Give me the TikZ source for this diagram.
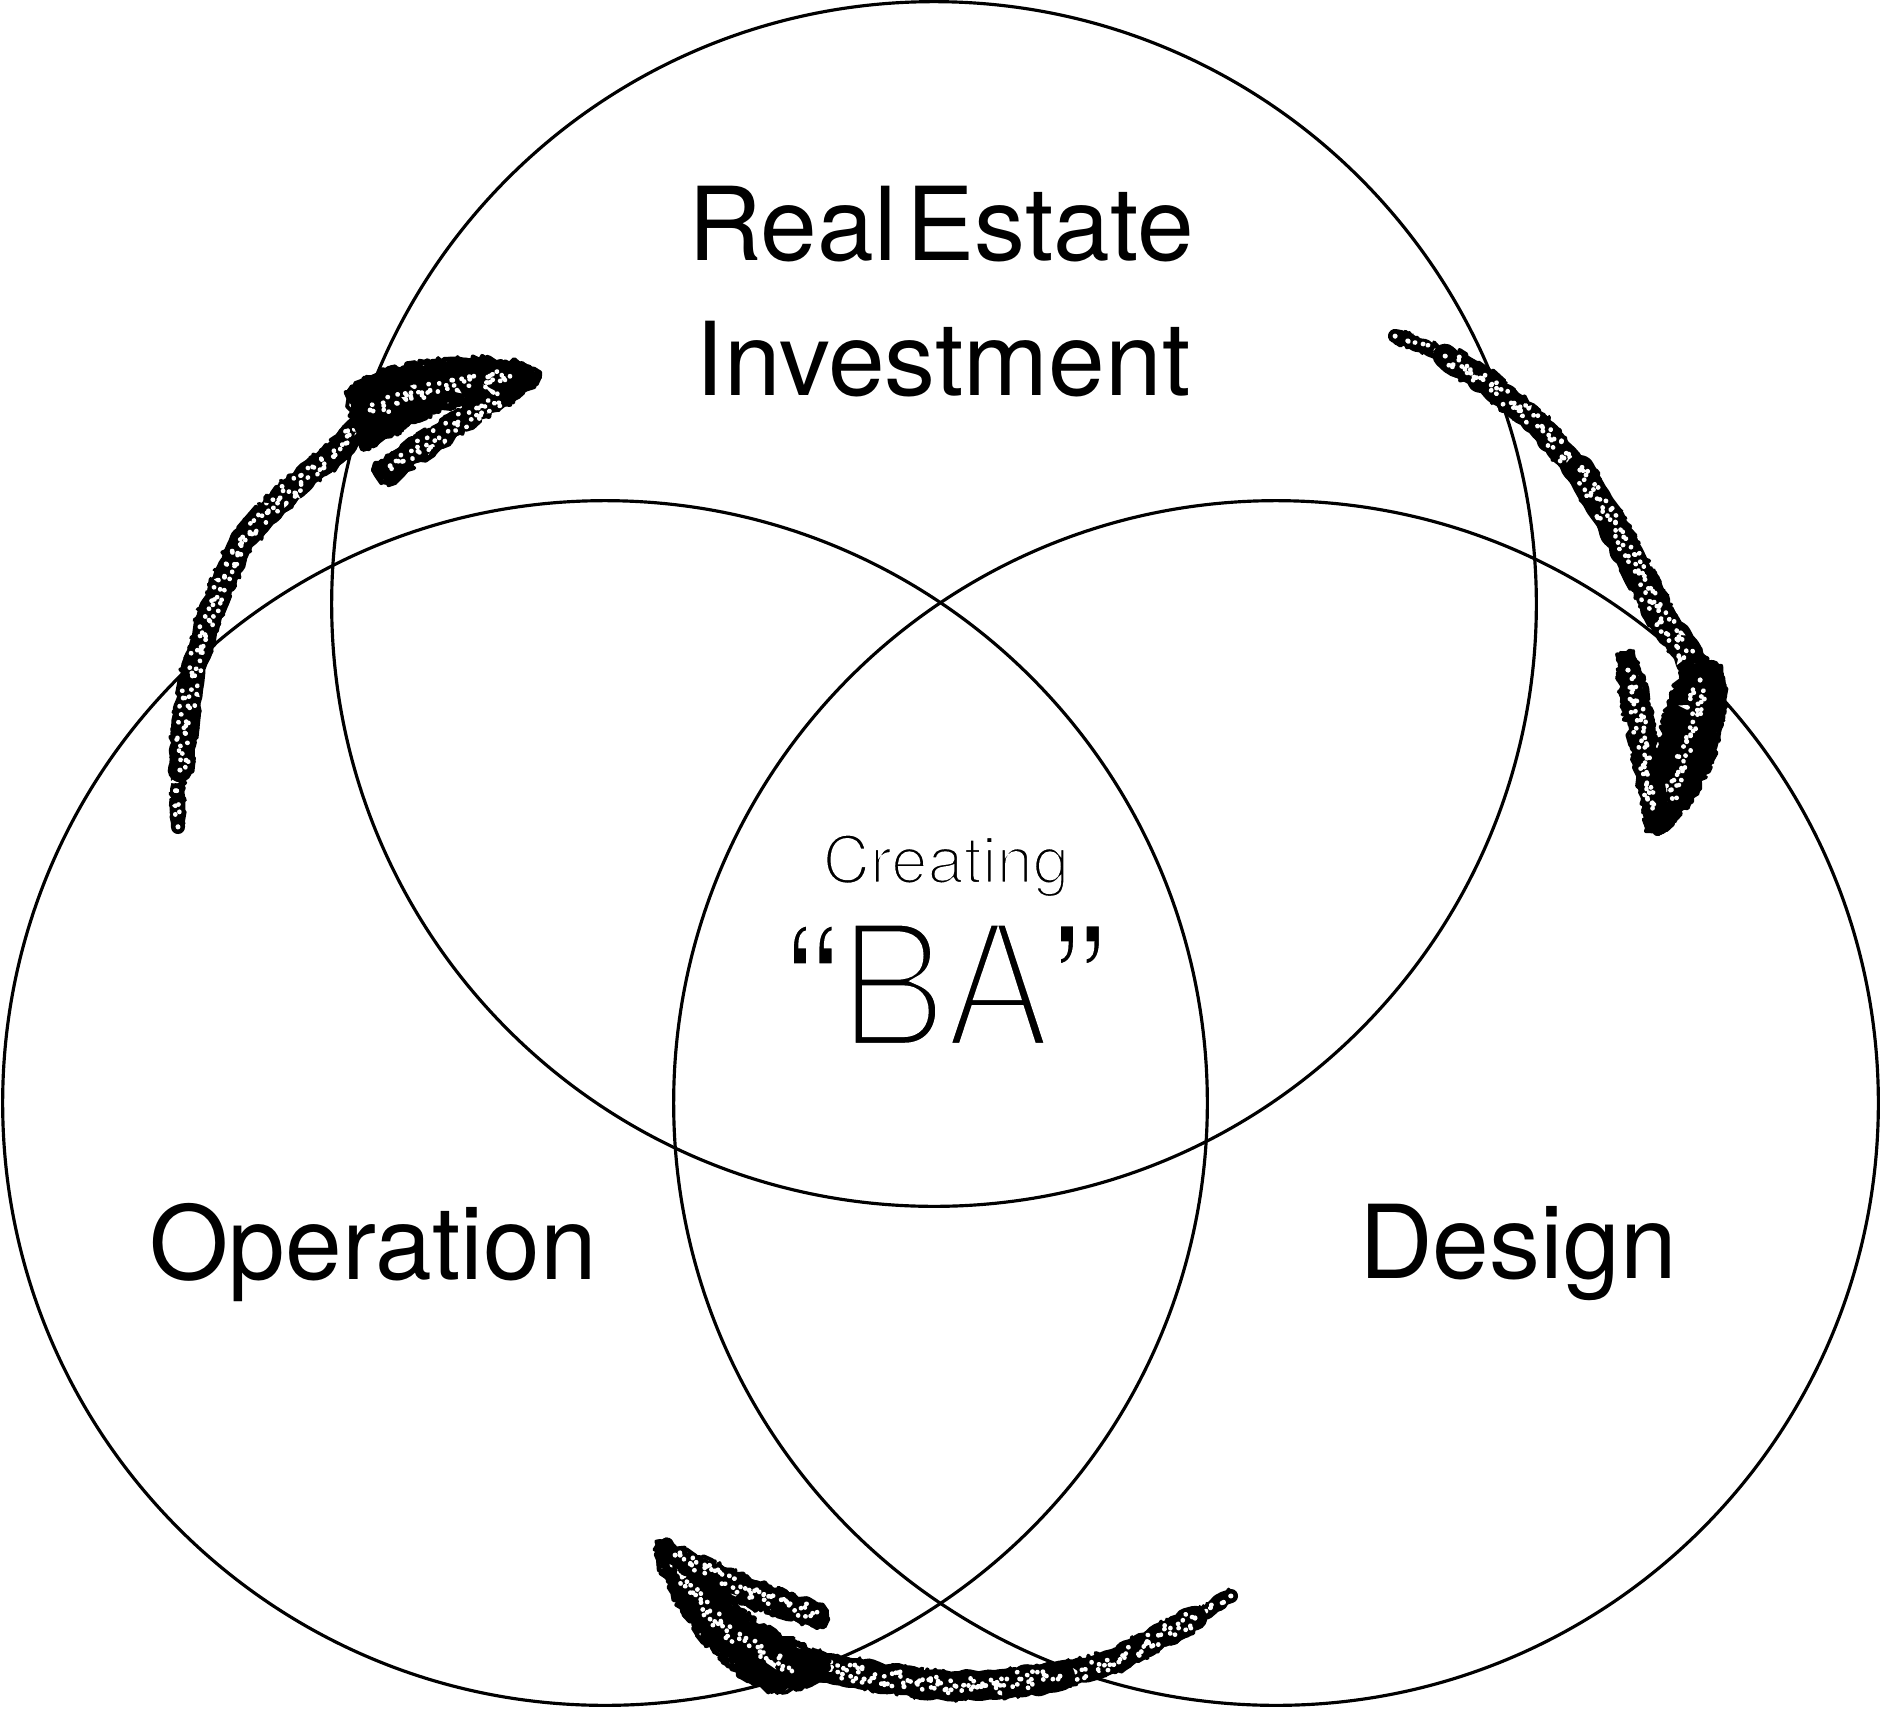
\documentclass[tikz,border=0pt]{standalone}
\usepackage{fontspec}
\setmainfont{TeX Gyre Heros}
\newfontfamily\bafont{TeX Gyre Heros}[FakeStretch=0.94]
\usetikzlibrary{decorations.pathmorphing}
\newcommand\thinink[1]{\special{pdf:literal direct 1 G 2 Tr #1 w}}
\tikzset{
  venn/.style={circle, draw, line width=0.9pt, minimum size=12.04cm, inner sep=0pt, outer sep=0pt},
  lbl/.style={anchor=base, inner sep=0pt, font=\fontsize{29}{35}\selectfont},
  core/.style={draw=black, line width=#1, line cap=round, line join=round, decorate,
    decoration={random steps, segment length=2pt, amplitude=0.6pt}},
  fuzz/.style={draw=black, line width=1.1pt, line cap=round, line join=round, decorate,
    decoration={random steps, segment length=1.3pt, amplitude=#1}},
  speckle/.style={draw=white, line width=1.3pt, line cap=round, dash pattern=on 0.1pt off 5.5pt, decorate,
    decoration={random steps, segment length=0.7pt, amplitude=#1}},
  headfill/.style={fill=black, decorate, decoration={random steps, segment length=2pt, amplitude=1pt}},
}
% \chalk{core width}{fuzz amplitude}{speckle amplitude}{path}
\newcommand\chalk[4]{%
  \draw[core=#1] #4;
  \foreach \kk in {1,...,6}{\draw[fuzz=#2] #4;}
  \foreach \kk in {1,2}{\draw[speckle=#3] #4;}}
% \chalkhead{polygon}{inner line}
\newcommand\chalkhead[2]{%
  \fill[headfill] #1;
  \foreach \kk in {1,...,4}{\draw[fuzz=1.3pt] #1;}
  \foreach \kk in {1,2}{\draw[speckle=2.4pt] #2;}}
\begin{document}
\begin{tikzpicture}[x=0.01cm, y=-0.01cm]
\pgfmathsetseed{11}
\useasboundingbox (0,0) rectangle (1882,1709);
% circles
\node[venn] (inv) at (934,604) {};
\node[venn] (ops) at (605,1103) {};
\node[venn] (des) at (1276,1103) {};
% ---------------- arrow 1 (left, up)
\coordinate (a1tail) at (178,827);
\coordinate (a1tip) at (540,377);
\chalk{4pt}{2.2pt}{1pt}{(a1tail) -- (177,790) -- (181,750)}
\chalk{7pt}{3.8pt}{2.4pt}{(180,770) -- (186,715) -- (193,673) -- (212,607) -- (240,545) -- (265,515) -- (290,490) -- (330,457) -- (362,425)}
\chalkhead{(348,392) -- (380,373) -- (430,363) -- (480,360) -- (520,364) -- (a1tip) -- (525,390) -- (480,397) -- (440,408) -- (410,422) -- (385,437) -- (362,449) -- cycle}
  {(370,410) -- (440,386) -- (510,376)}
\chalkhead{(373,470) -- (400,449) -- (440,424) -- (480,402) -- (515,386) -- (523,393) -- (490,411) -- (455,435) -- (420,460) -- (388,483) -- cycle}
  {(390,466) -- (450,428) -- (505,395)}
% ---------------- arrow 2 (right, down)
\coordinate (a2tail) at (1395,336);
\coordinate (a2tip) at (1658,834);
\chalk{4pt}{2.2pt}{1pt}{(a2tail) -- (1425,346) -- (1455,362)}
\chalk{7pt}{3.8pt}{2.4pt}{(1445,356) -- (1490,385) -- (1537,423) -- (1590,485)}
\chalk{8.5pt}{4.4pt}{3pt}{(1580,470) -- (1628,553) -- (1663,620) -- (1697,668)}
\chalkhead{(1688,662) -- (1718,666) -- (1724,700) -- (1714,750) -- (1692,797) -- (a2tip) -- (1647,828) -- (1651,790) -- (1661,745) -- (1671,700) -- cycle}
  {(1700,680) -- (1690,740) -- (1665,810)}
\chalkhead{(1620,655) -- (1633,653) -- (1646,700) -- (1656,760) -- (1663,815) -- (1652,830) -- (1642,790) -- (1631,730) -- (1621,690) -- cycle}
  {(1628,670) -- (1642,740) -- (1652,810)}
% ---------------- arrow 3 (bottom, left)
\coordinate (a3tail) at (1231,1596);
\coordinate (a3tip) at (660,1541);
\chalk{4pt}{2.2pt}{1pt}{(a3tail) -- (1213,1607) -- (1185,1624)}
\chalk{7pt}{3.8pt}{2.4pt}{(1195,1618) -- (1154,1640) -- (1114,1661) -- (1075,1672) -- (1035,1679)}
\chalk{8.5pt}{4.4pt}{3pt}{(1060,1676) -- (1035,1680) -- (996,1685) -- (956,1686) -- (917,1683) -- (877,1677) -- (818,1665)}
\chalkhead{(a3tip) -- (687,1566) -- (719,1596) -- (759,1626) -- (806,1649) -- (828,1663) -- (811,1685) -- (770,1690) -- (738,1671) -- (706,1641) -- (679,1601) -- (658,1560) -- cycle}
  {(672,1565) -- (720,1625) -- (790,1670)}
\chalkhead{(663,1541) -- (699,1559) -- (751,1581) -- (798,1599) -- (827,1611) -- (825,1626) -- (794,1618) -- (747,1604) -- (703,1583) -- (667,1556) -- cycle}
  {(675,1555) -- (750,1592) -- (815,1615)}
% ---------------- labels
\node[lbl] (rei1) at (941,260) {{\spaceskip=0.1em\relax Real Estate}};
\node[lbl] (rei2) at (943,395) {Investment};
\node[lbl] (opl) at (373,1279) {Operation};
\node[lbl] (del) at (1518,1278) {Design};
\node[anchor=base, inner sep=0pt, font=\fontsize{18.6}{22}\selectfont] (cre) at (946,883) {\thinink{0.8}Creating};
\node[anchor=base, inner sep=0pt, font=\bafont\fontsize{49}{58}\selectfont] (ba) at (945,1047) {\thinink{0.8}“\thinink{2.4}BA\thinink{0.8}”};
\end{tikzpicture}
\end{document}
